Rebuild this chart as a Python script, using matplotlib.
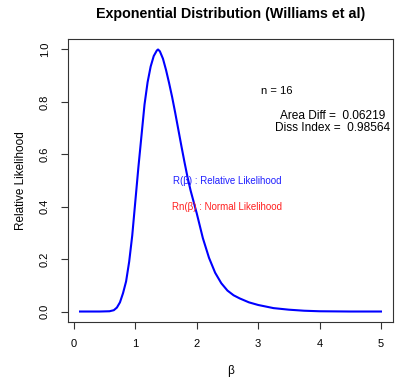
import numpy as np
import matplotlib.pyplot as plt

plt.rcParams['font.family'] = ['Liberation Sans', 'DejaVu Sans']

# relative likelihood curve
beta = [0.10, 0.42, 0.58, 0.65, 0.70, 0.75, 0.80, 0.85, 0.90, 0.95, 1.00,
        1.05, 1.10, 1.15, 1.20, 1.25, 1.30, 1.35, 1.37, 1.40, 1.45, 1.50,
        1.55, 1.60, 1.65, 1.70, 1.75, 1.80, 1.85, 1.90, 2.00, 2.10, 2.20,
        2.30, 2.40, 2.50, 2.60, 2.70, 2.85, 3.00, 3.25, 3.50, 3.75, 4.00,
        4.50, 5.00]
rel_lik = [0.0, 0.0, 0.001, 0.005, 0.015, 0.035, 0.07, 0.115, 0.19, 0.29, 0.42,
           0.55, 0.67, 0.79, 0.875, 0.935, 0.975, 0.996, 1.0, 0.993, 0.965, 0.922,
           0.872, 0.818, 0.758, 0.695, 0.632, 0.571, 0.513, 0.462, 0.375, 0.28, 0.205,
           0.148, 0.108, 0.08, 0.062, 0.05, 0.035, 0.025, 0.013, 0.007, 0.003, 0.001,
           0.0, 0.0]

n = 16
area_diff = 0.06219
diss_index = 0.98564

fig = plt.figure(figsize=(4.19, 3.85), dpi=100)
ax = fig.add_axes([68/419, 1-322/385, (393-68)/419, (322-39)/385])

ax.plot(beta, rel_lik, color='#0000ff', lw=1.5)

ax.set_xlim(0.1 - 0.04*4.9, 5 + 0.04*4.9)
ax.set_ylim(-0.04, 1.04)
ax.set_xticks([0, 1, 2, 3, 4, 5])
ax.set_yticks([0.0, 0.2, 0.4, 0.6, 0.8, 1.0])
ax.set_yticklabels(['0.0', '0.2', '0.4', '0.6', '0.8', '1.0'], rotation=90, va='center')
ax.tick_params(length=5, width=0.8, color='#333333', labelsize=8, pad=7)
ax.tick_params(axis='y', pad=8)
for s in ax.spines.values():
    s.set_color('#333333')
    s.set_linewidth(0.8)

ax.set_title('Exponential Distribution (Williams et al)', fontsize=10.3,
             fontweight='bold', pad=15)
ax.set_xlabel('β', fontsize=8.5)
ax.set_ylabel('Relative Likelihood', fontsize=8.5)
ax.xaxis.set_label_coords(0.5, -0.151)
ax.yaxis.set_label_coords(-0.125, 0.5)

ax.text(3.3, 0.84, 'n = 16', fontsize=8, ha='center', va='center')
ax.text(4.22, 0.746, 'Area Diff =  %.5f' % area_diff, fontsize=8.6, ha='center', va='center')
ax.text(4.22, 0.70, 'Diss Index =  %.5f' % diss_index, fontsize=8.6, ha='center', va='center')
ax.text(2.5, 0.497, 'R(β) : Relative Likelihood', fontsize=7, color='#2020ff',
        ha='center', va='center')
ax.text(2.5, 0.397, 'Rn(β) : Normal Likelihood', fontsize=7, color='#ff2020',
        ha='center', va='center')

fig.savefig('out.png', dpi=100)
